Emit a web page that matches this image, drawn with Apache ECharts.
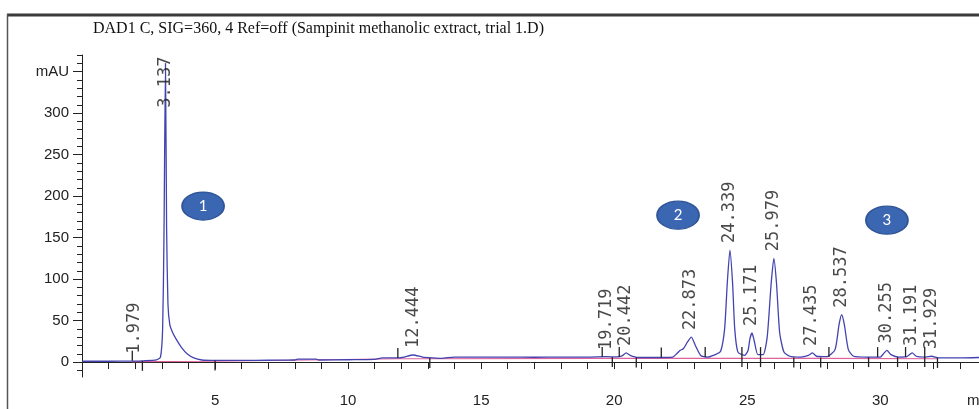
<!DOCTYPE html>
<html>
<head>
<meta charset="utf-8">
<title>DAD1 C chromatogram</title>
<script src="https://cdn.jsdelivr.net/npm/echarts@6.0.0/dist/echarts.min.js"></script>
<style>
  html, body { margin: 0; padding: 0; background: #fff; }
  #chart { width: 979px; height: 409px; }
</style>
</head>
<body>
<div id="chart"></div>
<script>
// detector trace: [retention time (min), absorbance (mAU)]
const trace = [
  [0, 1], [1, 1], [1.9, 1.2], [2.3, 1.5], [2.8, 2.5], [2.95, 6], [3.03, 40], [3.08, 150],
  [3.137, 360], [3.18, 160], [3.23, 70], [3.3, 45], [3.4, 36], [3.55, 27], [3.75, 17],
  [3.95, 10], [4.2, 5], [4.5, 2.5], [5, 2], [6, 2], [7, 2.2], [8, 2.5], [8.1, 3.5],
  [8.8, 3.5], [8.9, 2.5], [10, 2.8], [11, 3.2], [11.3, 5], [11.9, 5], [12.1, 6],
  [12.444, 8.5], [12.8, 6], [13.2, 5], [13.5, 4.5], [14, 6], [15, 6], [16, 6], [17, 5.8],
  [18, 6], [19, 6], [19.7, 6.5], [20.1, 6.2], [20.3, 7.5], [20.45, 11], [20.6, 8],
  [20.9, 5.5], [21.5, 5.5], [22.2, 6], [22.35, 10], [22.47, 14], [22.6, 16], [22.75, 24],
  [22.9, 30], [23.05, 20], [23.25, 8], [23.5, 6], [23.8, 9], [24.0, 13], [24.15, 40],
  [24.25, 95], [24.35, 135], [24.45, 95], [24.53, 40], [24.65, 12], [24.9, 8], [25.03, 14],
  [25.1, 28], [25.18, 35], [25.26, 26], [25.4, 9], [25.6, 9], [25.75, 30], [25.9, 95],
  [26.0, 125], [26.1, 95], [26.22, 35], [26.38, 12], [26.6, 7], [27.0, 6], [27.3, 8],
  [27.45, 11], [27.6, 7], [28.0, 6.5], [28.3, 15], [28.45, 45], [28.55, 57], [28.65, 45],
  [28.8, 15], [29.0, 7], [29.5, 6], [30.0, 6], [30.12, 10], [30.25, 14], [30.4, 9],
  [30.7, 6], [31.0, 6.5], [31.2, 11], [31.35, 7], [31.7, 6], [31.93, 7], [32.2, 5],
  [33, 5], [33.71, 5.5]
];
// integration baseline
const baseline = [
  [1.89, 0.5], [5, 1], [11.87, 4], [13.07, 4], [19.55, 4.5], [21.77, 4.5],
  [26.75, 4.5], [27.76, 4.5], [32.15, 4]
];
const peakTimes = [1.979, 3.137, 12.444, 19.719, 20.442, 22.873, 24.339, 25.171, 25.979, 27.435, 28.537, 30.255, 31.191, 31.929];
const peakHeights = [1.5, 360, 8.5, 6, 11, 30, 135, 35, 125, 11, 57, 14, 11, 7];
// peak start / end markers: [time, mAU]
const markStart = [[1.89, 1.5], [11.87, 5], [19.55, 6], [20.19, 6], [21.77, 5.5], [23.42, 6], [24.8, 6], [25.5, 6], [28.07, 6], [29.9, 6], [30.95, 6], [31.67, 6]];
const markEnd = [[2.27, 1.5], [5.0, 2], [13.07, 5], [19.93, 6], [20.83, 5.5], [24.8, 6], [25.5, 6], [26.75, 5.5], [27.76, 5.5], [29.56, 6], [30.65, 6], [31.67, 6], [32.15, 5]];
const regionNames = ['1', '2', '3'];
const regionPos = [[4.55, 188], [22.4, 177], [30.25, 171]];
const xLabels = [5, 10, 15, 20, 25, 30];
const xTicks = [1, 2, 3, 4, 5, 6, 7, 8, 9, 10, 11, 12, 13, 14, 15, 16, 17, 18, 19, 20, 21, 22, 23, 24, 25, 26, 27, 28, 29, 30, 31, 32, 33];
const yLabels = [0, 50, 100, 150, 200, 250, 300, 350];
const yMinorTicks = [-10, 10, 20, 30, 40, 60, 70, 80, 90, 110, 120, 130, 140, 160, 170, 180, 190, 210, 220, 230, 240, 260, 270, 280, 290, 310, 320, 330, 340, 360, 370];

const xMax = 33.71;
const axisFont = "'Liberation Sans Narrow', 'Arial Narrow', 'Liberation Sans', sans-serif";

const chart = echarts.init(document.getElementById('chart'));

const option = {
  animation: false,
  backgroundColor: '#fff',
  title: {
    text: 'DAD1 C, SIG=360, 4 Ref=off (Sampinit methanolic extract, trial 1.D)',
    left: 93,
    top: 21,
    padding: 0,
    textStyle: { fontFamily: 'Liberation Serif', fontSize: 16, fontWeight: 'normal', color: '#111' }
  },
  graphic: [
    { type: 'line', shape: { x1: 7, y1: 15, x2: 979, y2: 15 }, style: { stroke: '#3a3a3a', lineWidth: 3 } },
    { type: 'line', shape: { x1: 7.5, y1: 14, x2: 7.5, y2: 409 }, style: { stroke: '#555', lineWidth: 1.5 } }
  ],
  grid: { left: 82, right: 0, top: 55, bottom: 32, outerBoundsMode: 'none', containLabel: false },
  xAxis: {
    type: 'value',
    min: 0,
    max: xMax,
    axisLine: { lineStyle: { color: '#222', width: 1 } },
    axisTick: { customValues: xTicks, length: 7, lineStyle: { color: '#222' } },
    axisLabel: {
      customValues: xLabels.concat([xMax]),
      formatter: v => (v === xMax ? 'min' : String(v)),
      margin: 16,
      fontFamily: axisFont,
      fontSize: 15,
      color: '#222'
    },
    splitLine: { show: false }
  },
  yAxis: [
    {
      type: 'value',
      min: -18,
      max: 370,
      axisLine: { show: true, lineStyle: { color: '#222', width: 1 } },
      axisTick: { show: true, customValues: yLabels, length: 9, lineStyle: { color: '#222' } },
      axisLabel: {
        customValues: yLabels,
        formatter: v => (v === 350 ? 'mAU' : String(v)),
        margin: 13,
        fontFamily: axisFont,
        fontSize: 15,
        color: '#222'
      },
      splitLine: { show: false }
    },
    {
      type: 'value',
      position: 'left',
      min: -18,
      max: 370,
      axisLine: { show: false },
      axisTick: { show: true, customValues: yMinorTicks, length: 5, lineStyle: { color: '#222' } },
      axisLabel: { show: false },
      splitLine: { show: false }
    }
  ],
  series: [
    {
      name: 'baseline',
      type: 'line',
      data: baseline,
      symbol: 'none',
      lineStyle: { color: '#e0629c', width: 1.2 },
      z: 2
    },
    {
      name: 'DAD1 C',
      type: 'line',
      data: trace,
      symbol: 'none',
      smooth: 0.2,
      lineStyle: { color: '#4343b0', width: 1.3 },
      z: 3
    },
    {
      name: 'start',
      type: 'scatter',
      data: markStart,
      symbol: 'rect',
      symbolSize: [1.3, 10],
      symbolOffset: [0, -5],
      itemStyle: { color: '#222', opacity: 1 },
      z: 4
    },
    {
      name: 'end',
      type: 'scatter',
      data: markEnd,
      symbol: 'rect',
      symbolSize: [1.3, 10],
      symbolOffset: [0, 5],
      itemStyle: { color: '#222', opacity: 1 },
      z: 4
    },
    {
      name: 'peak labels',
      type: 'scatter',
      // off-scale peak gets its label parked lower, as the data system does
      data: peakTimes.map((t, i) => [t, Math.min(peakHeights[i], 298)]),
      symbolSize: 0.1,
      itemStyle: { color: 'rgba(0,0,0,0)' },
      label: {
        show: true,
        position: 'top',
        distance: 7,
        rotate: 90,
        align: 'left',
        verticalAlign: 'middle',
        formatter: p => peakTimes[p.dataIndex].toFixed(3),
        fontFamily: 'DejaVu Sans Mono',
        fontSize: 17,
        color: '#1a1a1a'
      },
      z: 5
    },
    {
      name: 'regions',
      type: 'scatter',
      data: regionPos,
      symbol: 'path://M0,50 A50,50 0 1,1 100,50 A50,50 0 1,1 0,50 Z',
      symbolSize: [42, 28],
      itemStyle: { color: '#3b66b2', borderColor: '#2f5597', borderWidth: 1.5, opacity: 1 },
      label: {
        show: true,
        position: 'inside',
        formatter: p => regionNames[p.dataIndex],
        color: '#fff',
        fontFamily: 'Lato',
        fontSize: 15
      },
      z: 6
    }
  ]
};

chart.setOption(option);
</script>
</body>
</html>
